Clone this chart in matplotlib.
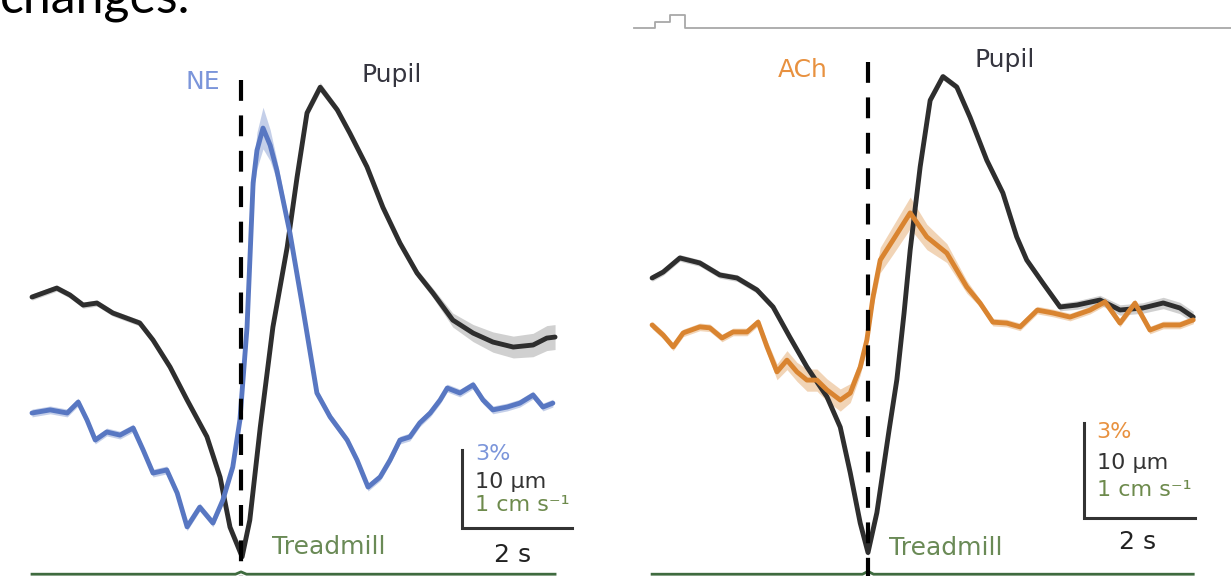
import matplotlib
matplotlib.use("Agg")
import matplotlib.pyplot as plt
from matplotlib.lines import Line2D
import numpy as np

# ---- left panel: NE and pupil around locomotion onset (t = 0 s) ----
t_pupil_L = [-3.80, -3.35, -3.11, -2.87, -2.62, -2.33, -1.84, -1.60, -1.29, -0.98,
             -0.62, -0.38, -0.20, 0.02, 0.16, 0.35, 0.58, 0.84, 1.02, 1.20,
             1.44, 1.75, 1.98, 2.29, 2.58, 2.89, 3.20, 3.49, 3.85, 4.22,
             4.58, 4.95, 5.31, 5.56, 5.71]
pupil_L = [0, 1.15, 0.26, -1.03, -0.77, -2.05, -3.33, -5.51, -8.97, -13.2,
           -17.9, -23.1, -29.5, -33.3, -28.6, -16.7, -3.85, 6.41, 15.4, 23.6,
           26.9, 24.0, 21.0, 16.7, 11.5, 6.92, 3.08, 0.51, -2.95, -4.62,
           -5.77, -6.41, -6.15, -5.26, -5.13]  # um
pupil_L_sem = [0.4, 0.4, 0.4, 0.4, 0.4, 0.4, 0.4, 0.4, 0.4, 0.4,
               0.4, 0.4, 0.4, 0.4, 0.4, 0.4, 0.4, 0.4, 0.4, 0.5,
               0.6, 0.5, 0.4, 0.4, 0.4, 0.4, 0.5, 0.6, 0.9, 1.1,
               1.3, 1.4, 1.5, 1.6, 1.6]

t_ne = [-3.80, -3.47, -3.16, -2.96, -2.80, -2.65, -2.44, -2.20, -1.96, -1.78,
        -1.60, -1.35, -1.16, -0.98, -0.75, -0.51, -0.33, -0.15, -0.02, 0.11,
        0.22, 0.29, 0.40, 0.53, 0.65, 0.89, 1.13, 1.38, 1.62, 1.93,
        2.11, 2.31, 2.53, 2.71, 2.89, 3.07, 3.25, 3.44, 3.62, 3.75,
        3.98, 4.22, 4.40, 4.58, 4.84, 5.07, 5.31, 5.49, 5.67]
ne = [0, 0.12, 0, 0.42, -0.27, -1.04, -0.73, -0.85, -0.58, -1.42,
      -2.31, -2.19, -3.08, -4.38, -3.62, -4.23, -3.35, -2.08, -0.27, 3.31,
      8.85, 10.1, 10.96, 10.3, 9.35, 6.92, 3.96, 0.77, -0.15, -1.04,
      -1.81, -2.85, -2.46, -1.81, -1.04, -0.92, -0.38, 0, 0.5, 0.96,
      0.77, 1.08, 0.5, 0.12, 0.23, 0.38, 0.69, 0.23, 0.38]  # % dF/F
ne_sem = [0.15] * 19 + [0.3, 0.5, 0.7, 0.8, 0.6, 0.4, 0.25] + [0.15] * 23

# ---- right panel: ACh and pupil ----
t_pupil_R = [-3.89, -3.69, -3.39, -3.03, -2.67, -2.36, -2.00, -1.71, -1.41, -1.10,
             -0.74, -0.50, -0.32, -0.14, 0.00, 0.16, 0.38, 0.52, 0.65, 0.76,
             0.94, 1.12, 1.35, 1.60, 1.84, 2.14, 2.43, 2.68, 2.86, 3.15,
             3.46, 3.77, 4.18, 4.54, 4.95, 5.32, 5.62, 5.86]
pupil_R = [0, 0.63, 2.11, 1.58, 0.32, 0, -1.26, -3.05, -6.21, -9.37,
           -12.5, -15.7, -20.5, -25.8, -28.9, -24.7, -16.0, -10.7, -3.68, 2.95,
           11.7, 18.7, 21.2, 20.1, 16.9, 12.4, 8.95, 4.32, 1.89, -0.53,
           -3.05, -2.84, -2.32, -3.37, -3.16, -2.63, -3.16, -4.11]  # um
pupil_R_sem = [0.35] * 30 + [0.4, 0.45, 0.5, 0.55, 0.55, 0.6, 0.6, 0.6]

t_ach = [-3.89, -3.69, -3.51, -3.33, -3.03, -2.85, -2.63, -2.43, -2.18, -1.98,
         -1.82, -1.64, -1.46, -1.28, -1.10, -0.92, -0.74, -0.50, -0.32, -0.14,
         -0.02, 0.09, 0.22, 0.45, 0.76, 1.06, 1.42, 1.78, 2.02, 2.25,
         2.50, 2.74, 3.05, 3.33, 3.64, 4.00, 4.27, 4.54, 4.81, 5.08,
         5.32, 5.62, 5.86]
ach = [0, -0.32, -0.69, -0.25, -0.06, -0.09, -0.41, -0.22, -0.22, 0.09,
       -0.69, -1.48, -1.11, -1.48, -1.74, -1.74, -2.05, -2.37, -2.15, -1.33,
       -0.47, 0.88, 2.05, 2.68, 3.54, 2.78, 2.27, 1.20, 0.69, 0.09,
       0.06, -0.06, 0.47, 0.38, 0.25, 0.47, 0.73, 0.06, 0.69, -0.16,
       0, 0, 0.16]  # % dF/F
ach_sem = ([0.12] * 10 + [0.2, 0.25, 0.3, 0.3, 0.35, 0.35, 0.35, 0.35, 0.3, 0.25]
           + [0.25, 0.3, 0.4, 0.45, 0.5, 0.4, 0.3, 0.2] + [0.12] * 15)

t_tread_L = [-3.80, -0.10, 0.00, 0.10, 5.71]
tread_L = [0, 0, 0.03, 0, 0]  # cm/s
t_tread_R = [-3.89, -0.10, 0.00, 0.10, 5.86]
tread_R = [0, 0, 0.03, 0, 0]

BLUE = "#5877c2"
ORANGE = "#d98430"
PUPIL = "#2e2e2e"
TREAD = "#3f6b3f"
FONT = "DejaVu Sans"

fig = plt.figure(figsize=(12.31, 5.76), dpi=100)


def trace(ax, t, y, sem, color, off=0.0, scale=1.0, band=None):
    t = np.asarray(t)
    y = off + scale * np.asarray(y)
    s = scale * np.asarray(sem)
    ax.fill_between(t, y - s, y + s, color=band or color, alpha=0.35, lw=0)
    ax.plot(t, y, color=color, lw=3.5, solid_capstyle="round",
            solid_joinstyle="round")


def panel(ax, t_p, p, p_sem, t_n, n, n_sem, col, lab, labcol, t_tr, tr,
          pupil_off, tread_off, dash_top, bar_x, bar_y, txt):
    ax.axis("off")
    trace(ax, t_p, p, p_sem, PUPIL, off=pupil_off, scale=0.3, band="#7a7a7a")
    trace(ax, t_n, n, n_sem, col)
    # treadmill speed, 1 cm/s drawn as 3 %
    ax.plot(t_tr, tread_off + 3 * np.asarray(tr), color=TREAD, lw=2.0)
    # locomotion onset, dashes start at the top
    ax.plot([0, 0], [dash_top, ax.get_ylim()[0]], color="black", lw=3.0,
            dashes=(5, 3.5))
    # scale bars: 3 % / 10 um / 1 cm s-1 and 2 s
    ax.plot([bar_x, bar_x, bar_x + 2], [bar_y + 3, bar_y, bar_y],
            color="#333333", lw=2.2, solid_joinstyle="miter")
    ax.text(txt["lab"][0], txt["lab"][1], lab, color=labcol, fontsize=18,
            family=FONT, ha="center", va="center")
    ax.text(txt["pupil"][0], txt["pupil"][1], "Pupil", color="#35353f",
            fontsize=18, family=FONT, ha="center", va="center")
    x0 = bar_x + 0.23
    ax.text(x0, txt["rows"][0], "3%", color=labcol, fontsize=16, family=FONT,
            va="center")
    ax.text(x0, txt["rows"][1], "10 µm", color="#333333", fontsize=16,
            family=FONT, va="center")
    ax.text(x0, txt["rows"][2], "1 cm s⁻¹", color="#6d8a4c", fontsize=16,
            family=FONT, va="center")
    ax.text(txt["tread"][0], txt["tread"][1], "Treadmill", color="#6a8a56",
            fontsize=18, family=FONT, va="center")
    ax.text(txt["sec"][0], txt["sec"][1], "2 s", color="#222222",
            fontsize=18, family=FONT, ha="center", va="center")


axL = fig.add_axes([0, 0, 0.5, 1])
axL.set_xlim(-4.382, 6.809)
axL.set_ylim(-6.269, 15.885)
panel(axL, t_pupil_L, pupil_L, pupil_L_sem, t_ne, ne, ne_sem, BLUE, "NE",
      "#7b95da", t_tread_L, tread_L, pupil_off=4.46, tread_off=-6.2,
      dash_top=12.8, bar_x=4.02, bar_y=-4.42,
      txt={"lab": (-0.69, 12.73), "pupil": (2.745, 13.0),
           "rows": (-1.58, -2.65, -3.54), "tread": (0.56, -5.15),
           "sec": (4.93, -5.46)})

axR = fig.add_axes([0.5, 0, 0.5, 1])
axR.set_xlim(-4.5495, 6.5405)
axR.set_ylim(-7.926, 10.262)
panel(axR, t_pupil_R, pupil_R, pupil_R_sem, t_ach, ach, ach_sem, ORANGE, "ACh",
      "#e8913f", t_tread_R, tread_R, pupil_off=1.484, tread_off=-7.87,
      dash_top=8.3, bar_x=3.89, bar_y=-6.09,
      txt={"lab": (-1.17, 8.05), "pupil": (2.47, 8.37),
           "rows": (-3.38, -4.36, -5.21), "tread": (0.38, -7.04),
           "sec": (4.86, -6.85)})

# slide leftovers: cropped title and a thin rule top right
fig.text(0.0, 1 - 12 / 576, "changes.", fontsize=36, family="Lato",
         color="black", va="baseline", ha="left")
rx = np.array([634, 655, 655, 670, 670, 685, 685, 1231]) / 1231
ry = 1 - np.array([28, 28, 22, 22, 15, 15, 28, 28]) / 576
fig.add_artist(Line2D(rx, ry, transform=fig.transFigure, color="#a8a8a8",
                      lw=1.3))

fig.savefig("out.png", dpi=100)
